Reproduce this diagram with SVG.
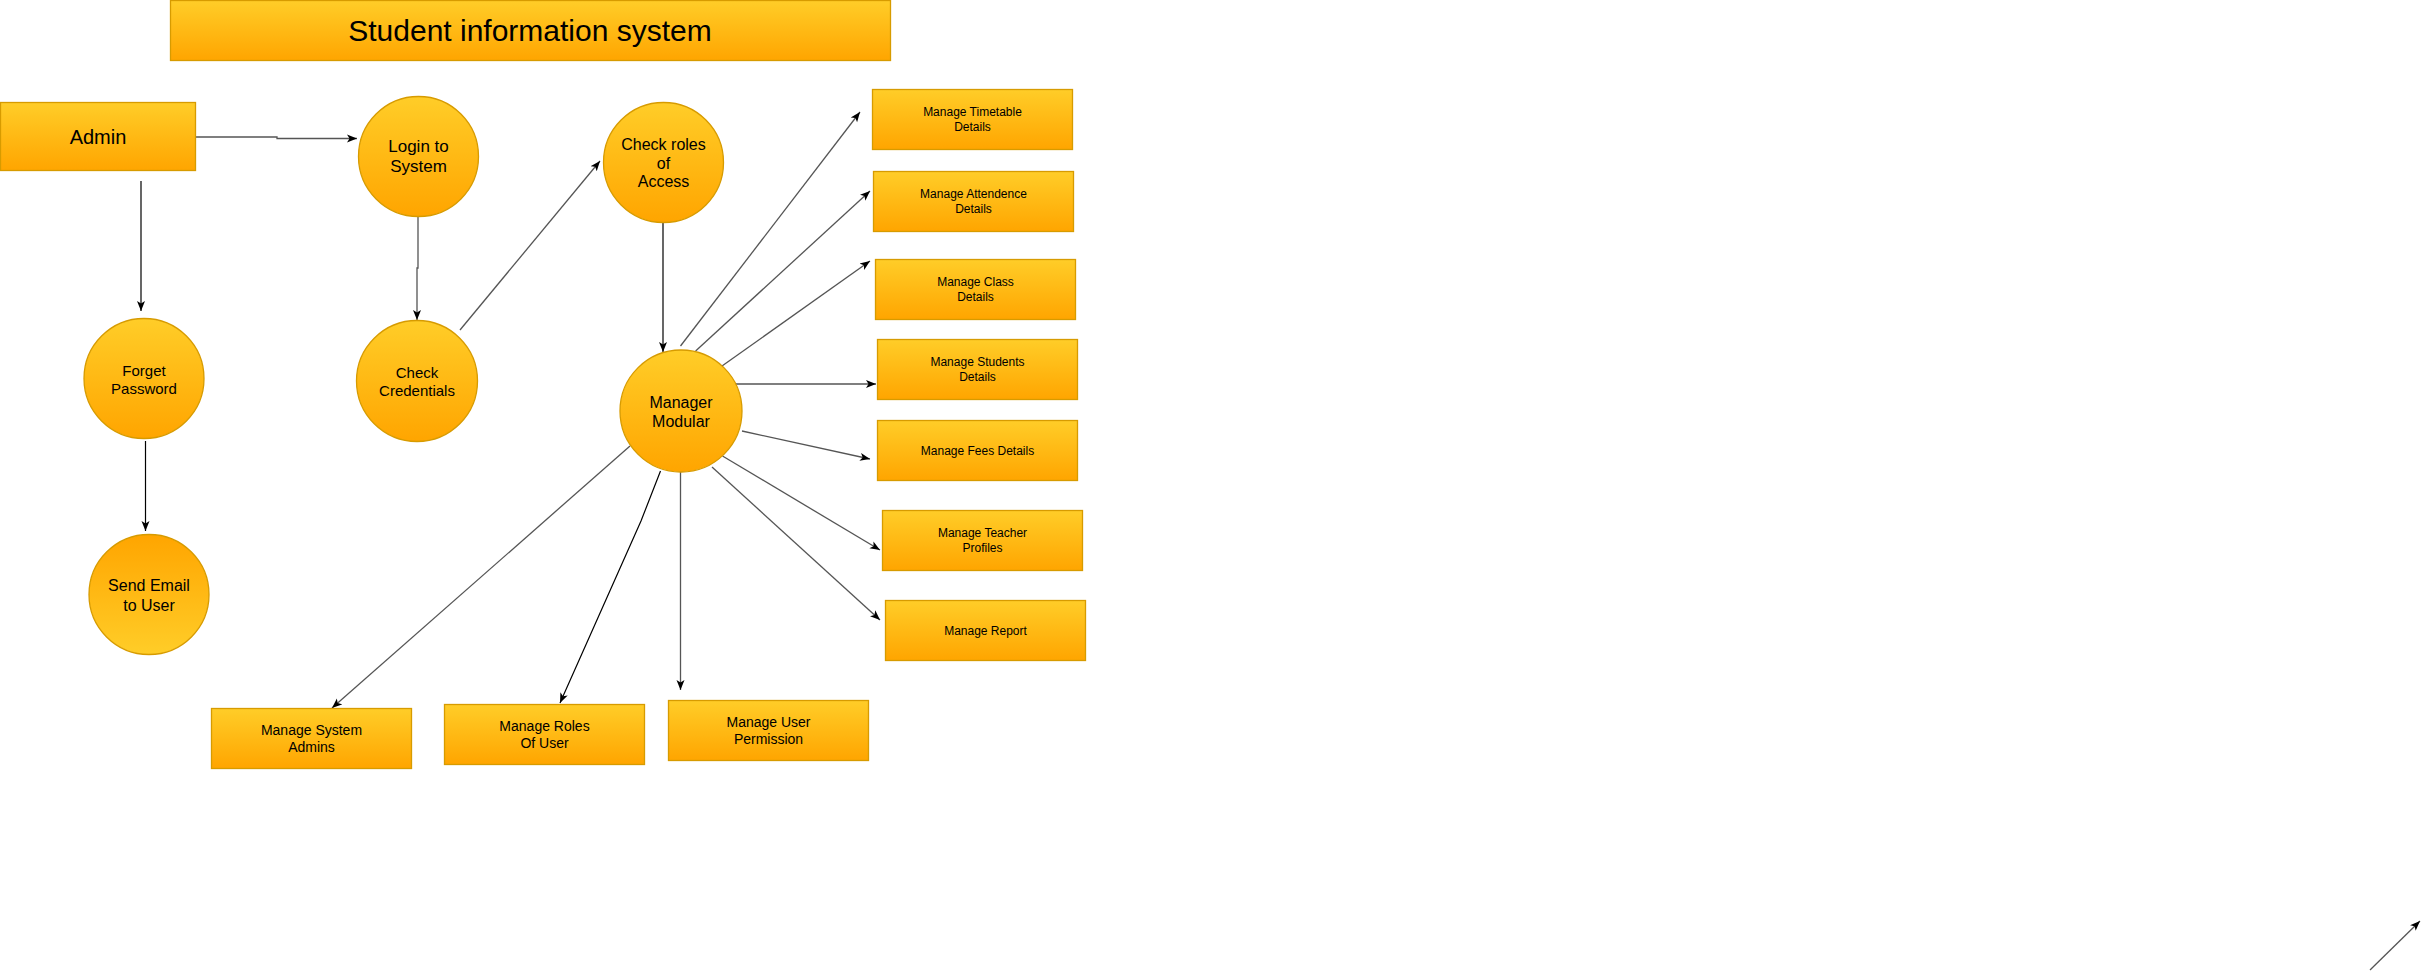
<svg xmlns="http://www.w3.org/2000/svg" width="2429" height="979" viewBox="0 0 2429 979">
<style>
.n{stroke:#D79B00;stroke-width:1.3;fill:url(#g)}
.r{fill:url(#gr)}
.t{font-family:"Liberation Sans",Arial,sans-serif;fill:#000;text-anchor:middle}
.e{fill:none;stroke:#000;stroke-width:1.2;marker-end:url(#a)}
.e2{fill:none;stroke:#555;stroke-width:1.3;marker-end:url(#a)}
</style>
<defs>
<linearGradient id="g" x1="0" y1="0" x2="0" y2="1"><stop offset="0" stop-color="#FFCD28"/><stop offset="1" stop-color="#FFA500"/></linearGradient>
<linearGradient id="gr" x1="0" y1="0" x2="0" y2="1"><stop offset="0" stop-color="#FFA500"/><stop offset="1" stop-color="#FFCD28"/></linearGradient>
<marker id="a" markerUnits="userSpaceOnUse" markerWidth="12" markerHeight="10" refX="10" refY="4" orient="auto" viewBox="0 0 12 8">
<path d="M0,0 L10,4 L0,8 L2.5,4 z" fill="#000"/>
</marker>
</defs>
<rect width="2429" height="979" fill="#fff"/>
<g id="connectors">
<path class="e2" d="M196,137 H277 V138.5 H357"/>
<path class="e" d="M141,181 V311"/>
<path class="e2" d="M418,217 V268 H417 V320"/>
<path class="e2" d="M460,330 L600,161"/>
<path class="e" d="M145.5,441 V531"/>
<path class="e" d="M663,223 V352"/>
<path class="e2" d="M680.5,346 L860,112"/>
<path class="e2" d="M695.6,351 L870,191"/>
<path class="e2" d="M722,366 L870,261"/>
<path class="e" d="M735,384 L876,384"/>
<path class="e2" d="M742,431 L870,459"/>
<path class="e2" d="M722.5,456 L880,550"/>
<path class="e2" d="M712,467 L880,620"/>
<path class="e2" d="M680.5,472 V690"/>
<path class="e" d="M660.5,471 L641,521 L560,703"/>
<path class="e2" d="M630,446 L332,708"/>
<path class="e2" d="M2370,970 L2420,921"/>
</g>
<g id="title"><rect class="n" x="170.5" y="0.5" width="720" height="60"/><text class="t" x="530" y="41" font-size="30">Student information system</text></g>
<g id="admin"><rect class="n" x="0.5" y="102.5" width="195" height="68"/><text class="t" x="98" y="144" font-size="20">Admin</text></g>
<g id="login"><circle class="n" cx="418.5" cy="156.5" r="60"/><text class="t" font-size="17"><tspan x="418.5" y="152">Login to</tspan><tspan x="418.5" y="172">System</tspan></text></g>
<g id="checkroles"><circle class="n" cx="663.5" cy="162.5" r="60"/><text class="t" font-size="16"><tspan x="663.5" y="150">Check roles</tspan><tspan x="663.5" y="168.5">of</tspan><tspan x="663.5" y="187">Access</tspan></text></g>
<g id="checkcred"><circle class="n" cx="417" cy="381" r="60.5"/><text class="t" font-size="15"><tspan x="417" y="378">Check</tspan><tspan x="417" y="396">Credentials</tspan></text></g>
<g id="forget"><circle class="n" cx="144" cy="378.5" r="60"/><text class="t" font-size="15"><tspan x="144" y="376">Forget</tspan><tspan x="144" y="394">Password</tspan></text></g>
<g id="sendemail"><circle class="n r" cx="149" cy="594.5" r="60"/><text class="t" font-size="16"><tspan x="149" y="591">Send Email</tspan><tspan x="149" y="611">to User</tspan></text></g>
<g id="manager"><circle class="n" cx="681" cy="411" r="61"/><text class="t" font-size="16"><tspan x="681" y="408">Manager</tspan><tspan x="681" y="427">Modular</tspan></text></g>
<g id="timetable"><rect class="n" x="872.5" y="89.5" width="200" height="60"/><text class="t" font-size="12"><tspan x="972.5" y="116">Manage Timetable</tspan><tspan x="972.5" y="131">Details</tspan></text></g>
<g id="attendence"><rect class="n" x="873.5" y="171.5" width="200" height="60"/><text class="t" font-size="12"><tspan x="973.5" y="198">Manage Attendence</tspan><tspan x="973.5" y="213">Details</tspan></text></g>
<g id="class"><rect class="n" x="875.5" y="259.5" width="200" height="60"/><text class="t" font-size="12"><tspan x="975.5" y="286">Manage Class</tspan><tspan x="975.5" y="301">Details</tspan></text></g>
<g id="students"><rect class="n" x="877.5" y="339.5" width="200" height="60"/><text class="t" font-size="12"><tspan x="977.5" y="366">Manage Students</tspan><tspan x="977.5" y="381">Details</tspan></text></g>
<g id="fees"><rect class="n" x="877.5" y="420.5" width="200" height="60"/><text class="t" font-size="12"><tspan x="977.5" y="455">Manage Fees Details</tspan></text></g>
<g id="teacher"><rect class="n" x="882.5" y="510.5" width="200" height="60"/><text class="t" font-size="12"><tspan x="982.5" y="537">Manage Teacher</tspan><tspan x="982.5" y="552">Profiles</tspan></text></g>
<g id="report"><rect class="n" x="885.5" y="600.5" width="200" height="60"/><text class="t" font-size="12"><tspan x="985.5" y="635">Manage Report</tspan></text></g>
<g id="sysadmins"><rect class="n" x="211.5" y="708.5" width="200" height="60"/><text class="t" font-size="14"><tspan x="311.5" y="735">Manage System</tspan><tspan x="311.5" y="752">Admins</tspan></text></g>
<g id="roles"><rect class="n" x="444.5" y="704.5" width="200" height="60"/><text class="t" font-size="14"><tspan x="544.5" y="731">Manage Roles</tspan><tspan x="544.5" y="748">Of User</tspan></text></g>
<g id="permission"><rect class="n" x="668.5" y="700.5" width="200" height="60"/><text class="t" font-size="14"><tspan x="768.5" y="727">Manage User</tspan><tspan x="768.5" y="744">Permission</tspan></text></g>
</svg>
